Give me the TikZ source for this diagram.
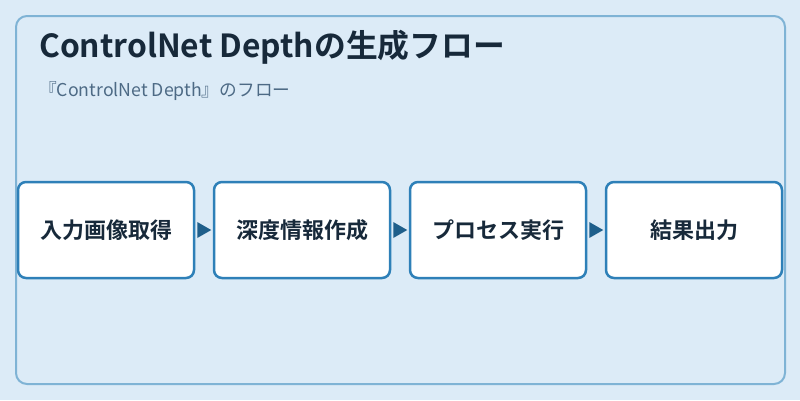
\documentclass[tikz,border=0pt]{standalone}
\usepackage{fontspec}
\setmainfont{Noto Sans CJK JP}
\newfontfamily\jpbold{Noto Sans CJK JP Bold}
\usetikzlibrary{arrows.meta}
\definecolor{bgc}{HTML}{DCEBF7}
\definecolor{framec}{HTML}{7FB3D5}
\definecolor{boxc}{HTML}{2E80B8}
\definecolor{arrc}{HTML}{1F5F8B}
\definecolor{titlec}{HTML}{17293A}
\definecolor{subc}{HTML}{4D6A85}
\begin{document}
\begin{tikzpicture}[x=1pt,y=-1pt,
  stepbox/.style={draw=boxc,line width=2.5pt,fill=white,rounded corners=8pt,
    minimum width=176pt,minimum height=96pt,inner sep=0pt,
    font=\jpbold\fontsize{22}{26}\selectfont,text=titlec}]
\useasboundingbox (0,0) rectangle (800,400);
\fill[bgc] (0,0) rectangle (800,400);
\draw[framec,line width=2pt,rounded corners=11pt] (16,16) rectangle (785,384);
\node[anchor=base west,inner sep=0pt,text=titlec,font=\jpbold\fontsize{31.8}{36}\selectfont] (title) at (39,57.5) {ControlNet Depthの生成フロー};
\node[anchor=base west,inner sep=0pt,text=subc,font=\fontsize{17.7}{21}\selectfont] (sub) at (39,96) {『ControlNet Depth』のフロー};
\node[stepbox] (s1) at (106,230) {入力画像取得};
\node[stepbox] (s2) at (302,230) {深度情報作成};
\node[stepbox] (s3) at (498,230) {プロセス実行};
\node[stepbox] (s4) at (694,230) {結果出力};
\foreach \a/\b in {s1/s2,s2/s3,s3/s4}{
  \fill[arrc] ([xshift=2pt]\a.east) ++(0,-8) -- ++(14,8) -- ++(-14,8) -- cycle;
}
\end{tikzpicture}
\end{document}
